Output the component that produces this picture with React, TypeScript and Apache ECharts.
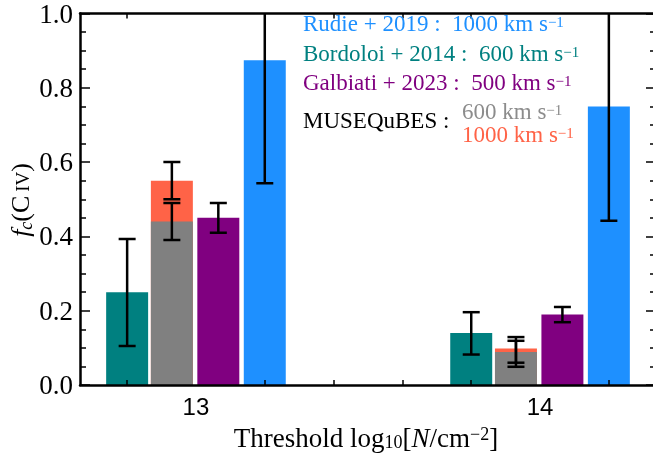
import React, { useEffect, useRef } from "react";
import * as echarts from "echarts";

// ---- data ----
const thresholds = [13, 14];
const xLabelValues = [13, 14];
const xMinorTickValues = [12.8, 13.2, 13.4, 13.6, 13.8, 14.2];

const bordoloi = [0.25, 0.14];
const bordoloiLow = [0.105, 0.082];
const bordoloiHigh = [0.393, 0.196];

const muse600 = [0.44, 0.089];
const muse600Low = [0.39, 0.049];
const muse600High = [0.49, 0.129];

const muse1000 = [0.55, 0.098];
const muse1000Low = [0.5, 0.06];
const muse1000High = [0.6, 0.119];

const galbiati = [0.45, 0.19];
const galbiatiLow = [0.41, 0.169];
const galbiatiHigh = [0.49, 0.21];

const rudie = [0.874, 0.75];
const rudieLow = [0.543, 0.442];
const rudieHigh = [1.205, 1.058];

// ---- layout constants ----
const X_MIN = 12.663;
const X_MAX = 14.337;
const BAR_W = 0.122;
const OFF_BORDOLOI = -0.2;
const OFF_MUSE = -0.07;
const OFF_GALBIATI = 0.065;
const OFF_RUDIE = 0.2;

const C_TEAL = "#008080";
const C_GRAY = "#808080";
const C_PURPLE = "#800080";
const C_BLUE = "#1E90FF";
const C_RED = "#FF6347";

const SERIF = "Liberation Serif";

function barSeries(name: string, values: number[], off: number, color: string) {
  return {
    type: "custom",
    name,
    coordinateSystem: "cartesian2d",
    xAxisIndex: 0,
    yAxisIndex: 0,
    z: 2,
    encode: { x: 0, y: 1 },
    data: thresholds.map((t, i) => [t + off, values[i]]),
    renderItem: (params: any, api: any) => {
      const x = api.value(0);
      const y = api.value(1);
      const p0 = api.coord([x - BAR_W / 2, y]);
      const p1 = api.coord([x + BAR_W / 2, 0]);
      return {
        type: "rect",
        shape: { x: p0[0], y: p0[1], width: p1[0] - p0[0], height: p1[1] - p0[1] },
        style: { fill: color },
      };
    },
  };
}

function errSeries(name: string, low: number[], high: number[], off: number) {
  return {
    type: "custom",
    name,
    coordinateSystem: "cartesian2d",
    xAxisIndex: 0,
    yAxisIndex: 0,
    z: 3,
    clip: true,
    encode: { x: 0, y: [1, 2] },
    data: thresholds.map((t, i) => [t + off, low[i], high[i]]),
    renderItem: (params: any, api: any) => {
      const x = api.value(0);
      const lo = api.coord([x, api.value(1)]);
      const hi = api.coord([x, api.value(2)]);
      const hw = 8.5;
      const ls = { stroke: "#000", lineWidth: 2.5 };
      return {
        type: "group",
        children: [
          { type: "line", shape: { x1: lo[0], y1: lo[1], x2: hi[0], y2: hi[1] }, style: ls },
          { type: "line", shape: { x1: lo[0] - hw, y1: lo[1], x2: lo[0] + hw, y2: lo[1] }, style: ls },
          { type: "line", shape: { x1: hi[0] - hw, y1: hi[1], x2: hi[0] + hw, y2: hi[1] }, style: ls },
        ],
      };
    },
  };
}

function legendLine(x: number, y: number, main: string, color: string) {
  return {
    type: "text",
    x,
    y,
    z: 20,
    style: {
      text: `{t|${main}}{s|\u22121}`,
      align: "left",
      verticalAlign: "middle",
      rich: {
        t: { fontFamily: SERIF, fontSize: 23, fill: color, lineHeight: 18 },
        s: { fontFamily: SERIF, fontSize: 15, fill: color, lineHeight: 12, verticalAlign: "top" },
      },
    },
  };
}

export default function App() {
  const ref = useRef<HTMLDivElement>(null);
  useEffect(() => {
    if (!ref.current) return;
    const chart = echarts.init(ref.current, undefined, { renderer: "svg" });
    const axisLineStyle = { color: "#000", width: 2.5 };
    const tickLine = { color: "#000", width: 1.5 };
    const xAxisBase = {
      type: "value",
      min: X_MIN,
      max: X_MAX,
      z: 10,
      axisLine: { show: true, onZero: false, lineStyle: axisLineStyle },
      axisTick: { show: true, inside: true, length: 5, customValues: xMinorTickValues, lineStyle: tickLine },
      splitLine: { show: false },
    };
    const yAxisBase = {
      type: "value",
      min: 0,
      max: 1,
      interval: 0.2,
      z: 10,
      axisLine: { show: true, onZero: false, lineStyle: axisLineStyle },
      axisTick: { show: true, inside: true, length: 10, lineStyle: tickLine },
      minorTick: { show: true, splitNumber: 4, length: 6, lineStyle: tickLine },
      splitLine: { show: false },
      minorSplitLine: { show: false },
    };
    const option: any = {
      animation: false,
      grid: { left: 80, top: 12, right: 4, bottom: 71 },
      xAxis: [
        {
          ...xAxisBase,
          position: "bottom",
          axisLabel: {
            customValues: xLabelValues,
            margin: 9,
            fontFamily: "Liberation Sans",
            fontSize: 24,
            color: "#000",
            formatter: (v: number) => String(Math.round(v)),
          },
        },
        { ...xAxisBase, position: "top", axisLabel: { show: false } },
      ],
      yAxis: [
        {
          ...yAxisBase,
          position: "left",
          axisLabel: {
            margin: 7,
            fontFamily: SERIF,
            fontSize: 27,
            color: "#000",
            formatter: (v: number) => v.toFixed(1),
          },
        },
        { ...yAxisBase, position: "right", axisLabel: { show: false } },
      ],
      series: [
        barSeries("Bordoloi", bordoloi, OFF_BORDOLOI, C_TEAL),
        barSeries("MUSE1000", muse1000, OFF_MUSE, C_RED),
        barSeries("MUSE600", muse600, OFF_MUSE, C_GRAY),
        barSeries("Galbiati", galbiati, OFF_GALBIATI, C_PURPLE),
        barSeries("Rudie", rudie, OFF_RUDIE, C_BLUE),
        errSeries("BordoloiErr", bordoloiLow, bordoloiHigh, OFF_BORDOLOI),
        errSeries("MUSE1000Err", muse1000Low, muse1000High, OFF_MUSE),
        errSeries("MUSE600Err", muse600Low, muse600High, OFF_MUSE),
        errSeries("GalbiatiErr", galbiatiLow, galbiatiHigh, OFF_GALBIATI),
        errSeries("RudieErr", rudieLow, rudieHigh, OFF_RUDIE),
      ],
      graphic: [
        legendLine(303, 23, "Rudie + 2019 :  1000 km s", C_BLUE),
        legendLine(303, 53, "Bordoloi + 2014 :  600 km s", C_TEAL),
        legendLine(303, 82, "Galbiati + 2023 :  500 km s", C_PURPLE),
        {
          type: "text",
          x: 303,
          y: 120,
          z: 20,
          style: {
            text: "MUSEQuBES :",
            fontFamily: SERIF,
            fontSize: 23,
            fill: "#000",
            align: "left",
            verticalAlign: "middle",
          },
        },
        legendLine(462, 111.5, "600 km s", "#8c8c8c"),
        legendLine(462, 134.5, "1000 km s", C_RED),
        {
          type: "text",
          x: 366,
          y: 438,
          z: 20,
          style: {
            text: "{n|Threshold log}{sub|10}{n|[}{i|N}{n|/cm}{sup|\u22122}{n|]}",
            align: "center",
            verticalAlign: "middle",
            rich: {
              n: { fontFamily: SERIF, fontSize: 27, fill: "#000", lineHeight: 26 },
              i: { fontFamily: SERIF, fontSize: 27, fontStyle: "italic", fill: "#000", lineHeight: 26 },
              sub: { fontFamily: SERIF, fontSize: 18, fill: "#000", lineHeight: 18, verticalAlign: "bottom" },
              sup: { fontFamily: SERIF, fontSize: 18, fill: "#000", lineHeight: 16, verticalAlign: "top" },
            },
          },
        },
        {
          type: "text",
          x: 20,
          y: 200,
          rotation: Math.PI / 2,
          z: 20,
          style: {
            text: "{i|f}{sub|c}{n|(C}{sc|\u2009IV}{n|)}",
            align: "center",
            verticalAlign: "middle",
            rich: {
              n: { fontFamily: SERIF, fontSize: 26, fill: "#000", lineHeight: 30 },
              i: { fontFamily: SERIF, fontSize: 26, fontStyle: "italic", fill: "#000", lineHeight: 30 },
              sub: { fontFamily: SERIF, fontSize: 18, fontStyle: "italic", fill: "#000", lineHeight: 22, verticalAlign: "bottom" },
              sc: { fontFamily: SERIF, fontSize: 19, fill: "#000", padding: [5, 0, 0, 0] },
            },
          },
        },
      ],
    };
    chart.setOption(option);
    return () => chart.dispose();
  }, []);
  return (
    <div
      ref={ref}
      style={{ position: "fixed", left: 0, top: 0, width: 660, height: 456 }}
    />
  );
}
